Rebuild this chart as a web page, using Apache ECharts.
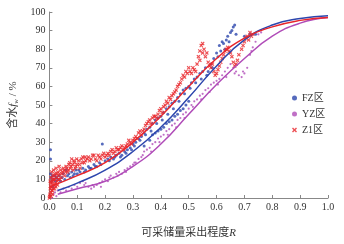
<!DOCTYPE html>
<html>
<head>
<meta charset="utf-8">
<script src="https://cdn.jsdelivr.net/npm/echarts@6/dist/echarts.min.js"></script>
<style>
html,body{margin:0;padding:0;background:#fff;}
#main{width:344px;height:244px;}
</style>
</head>
<body>
<div id="main"></div>
<script>
// 坐标轴刻度
var xTicks = [0, 0.1, 0.2, 0.3, 0.4, 0.5, 0.6, 0.7, 0.8, 0.9, 1.0];
var yTicks = [0, 10, 20, 30, 40, 50, 60, 70, 80, 90, 100];
var seriesNames = ['FZ区', 'YZ区', 'Z1区'];

// FZ区 实测点 [R, fw]
var fzPoints = [
  [0.004,26],[0.004,21],[0.004,13],[0.006,11],[0.008,9],[0.01,12],[0.012,6],[0.015,10],
  [0.02,12],[0.022,9],[0.025,11],[0.03,10],[0.035,12],[0.04,9],[0.045,11],[0.05,13],
  [0.055,10],[0.06,15],[0.065,12],[0.07,13],[0.075,11],[0.08,14],[0.085,12],[0.09,13],
  [0.095,15],[0.1,13],[0.11,14],[0.12,16],[0.13,15],[0.14,17],[0.15,16],[0.16,18],
  [0.17,17],[0.18,19],[0.19,29],[0.2,20],[0.21,21],[0.22,22],[0.23,21],[0.24,23],
  [0.25,24],[0.26,23],[0.27,25],[0.28,26],[0.29,27],[0.3,29],[0.31,30],[0.32,32],
  [0.33,33],[0.34,35],[0.35,37],[0.36,38],[0.37,40],[0.38,42],[0.39,43],[0.4,44],
  [0.41,46],[0.42,48],[0.43,49],[0.44,51],[0.45,52],[0.46,54],[0.47,56],[0.48,58],
  [0.49,59],[0.5,60],[0.51,62],[0.52,64],[0.53,65],[0.54,67],[0.55,68],[0.56,70],
  [0.57,68],[0.58,72],[0.59,75],[0.6,78],[0.61,82],[0.62,84],[0.63,80],[0.64,87],
  [0.65,89],[0.66,92],[0.665,93],[0.67,88],[0.7,87],[0.72,88],[0.74,88],
  [0.34,28],[0.36,31],[0.37,34],[0.38,35],[0.39,36],[0.4,37],[0.41,38],[0.42,40],
  [0.43,41],[0.44,42],[0.45,44],[0.46,45],[0.47,47],[0.48,48],[0.49,50],[0.5,52],
  [0.105,15],[0.125,14],[0.145,16],[0.165,17],[0.185,18],[0.215,20],[0.235,22],[0.255,22],
  [0.275,24],[0.295,26],[0.305,28],[0.325,31],[0.345,34],[0.365,36],[0.385,40],[0.405,42],
  [0.425,45],[0.445,48],[0.465,52],[0.485,56],[0.505,59],[0.525,62],[0.545,64],[0.565,66],
  [0.585,70],[0.605,76],[0.615,79],[0.625,83],[0.635,85],[0.645,84],[0.655,90]
];

// YZ区 实测点
var yzPoints = [
  [0.01,0],[0.015,2],[0.02,3],[0.025,1],[0.03,4],[0.04,3],[0.05,5],[0.06,4],
  [0.07,6],[0.08,5],[0.09,7],[0.1,6],[0.11,8],[0.12,9],[0.13,8],[0.14,6],
  [0.15,5],[0.16,6],[0.17,7],[0.18,8],[0.19,9],[0.2,10],[0.21,9],[0.22,12],
  [0.23,11],[0.24,13],[0.25,14],[0.26,13],[0.27,15],[0.28,16],[0.29,17],[0.3,18],
  [0.31,19],[0.32,21],[0.33,22],[0.34,25],[0.35,26],[0.36,27],[0.37,29],[0.38,30],
  [0.39,32],[0.4,33],[0.41,34],[0.42,36],[0.43,37],[0.44,39],[0.45,40],[0.46,42],
  [0.47,43],[0.48,45],[0.49,46],[0.5,48],[0.51,50],[0.52,52],[0.53,53],[0.54,55],
  [0.55,56],[0.56,58],[0.57,59],[0.58,61],[0.59,62],[0.6,63],[0.61,64],[0.62,66],
  [0.63,68],[0.64,70],[0.65,72],[0.66,70],[0.67,68],[0.68,66],[0.69,65],[0.7,67],
  [0.71,70],[0.72,77],[0.73,81],[0.74,84],[0.75,88],[0.76,89],
  [0.125,7],[0.155,7],[0.185,6],[0.215,11],[0.245,12],[0.275,14],[0.305,19],[0.335,23],
  [0.365,25],[0.395,30],[0.425,34],[0.455,38],[0.485,43],[0.515,49],[0.545,53],[0.575,57],
  [0.605,61],[0.635,65],[0.665,67],[0.695,68],[0.725,79]
];

// Z1区 实测点
var z1Points = [
  [0,0],[0.002,2],[0.003,5],[0.004,8],[0.005,3],[0.006,11],[0.007,6],[0.008,14],
  [0.01,4],[0.01,9],[0.012,12],[0.013,7],[0.015,15],[0.016,10],[0.018,5],[0.02,13],
  [0.022,8],[0.024,16],[0.026,11],[0.028,9],[0.03,14],[0.032,12],[0.035,17],[0.038,10],
  [0.04,15],[0.045,13],[0.05,16],[0.055,12],[0.06,17],[0.065,14],[0.07,18],[0.075,16],
  [0.08,21],[0.085,15],[0.09,19],[0.095,17],[0.1,18],[0.105,20],[0.11,16],[0.115,21],
  [0.12,22],[0.125,19],[0.13,20],[0.14,22],[0.15,21],[0.16,23],[0.17,20],[0.18,22],
  [0.19,23],[0.2,22],[0.21,24],[0.22,25],[0.23,24],[0.24,27],[0.25,26],[0.26,28],
  [0.27,27],[0.28,29],[0.29,30],[0.3,31],[0.31,33],[0.32,35],[0.33,34],[0.34,37],
  [0.35,40],[0.36,42],[0.37,43],[0.38,44],[0.39,45],[0.4,48],[0.41,49],[0.42,52],
  [0.43,54],[0.44,55],[0.45,57],[0.46,60],[0.47,62],[0.48,66],[0.49,68],[0.5,70],
  [0.51,67],[0.52,69],[0.53,72],[0.535,76],[0.54,79],[0.545,82],[0.55,83],[0.555,80],
  [0.56,76],[0.57,73],[0.58,70],[0.59,68],[0.6,67],[0.61,71],[0.62,75],[0.63,79],
  [0.64,81],[0.65,78],[0.66,73],[0.665,71],[0.675,74],[0.69,80],[0.7,84],[0.71,87],
  [0.72,89],[0.73,88],
  [0.001,1],[0.003,9],[0.005,6],[0.006,1],[0.008,4],[0.009,8],[0.011,2],[0.012,10],
  [0.014,5],[0.017,12],[0.019,7],[0.021,10],[0.023,6],[0.027,13],[0.029,7],[0.033,10],
  [0.037,13],[0.042,11],[0.048,14],[0.053,15],[0.058,14],[0.063,16],[0.068,15],[0.073,19],
  [0.078,17],[0.083,18],[0.088,20],[0.093,16],[0.098,21],[0.108,18],[0.118,19],[0.128,22],
  [0.135,21],[0.145,20],[0.155,23],[0.165,21],[0.175,23],[0.185,21],[0.195,24],[0.205,23],
  [0.215,23],[0.225,26],[0.235,25],[0.245,26],[0.255,27],[0.265,26],[0.275,28],[0.285,31],
  [0.295,29],[0.305,32],[0.315,32],[0.325,36],[0.335,36],[0.345,39],[0.355,41],[0.365,40],
  [0.375,44],[0.385,43],[0.395,47],[0.405,46],[0.415,50],[0.425,51],[0.435,53],[0.445,56],
  [0.455,58],[0.465,61],[0.475,64],[0.485,65],[0.495,67],[0.505,68],[0.515,70],[0.525,68],
  [0.54,74],[0.55,78],[0.565,78],[0.575,71],[0.585,72],[0.595,66],[0.605,69],[0.615,73],
  [0.625,77],[0.635,80],[0.645,79],[0.655,76],[0.67,72],[0.68,77],[0.695,82],[0.705,86],
  [0.715,85],[0.725,87]
];

// 拟合曲线
var fzFit = [[0.03,4],[0.1,8],[0.2,15],[0.3,25],[0.4,38],[0.5,54],[0.6,71],[0.7,85],[0.8,93],[0.9,96.5],[1.0,98]];
var yzFit = [[0.03,2],[0.1,5],[0.2,9],[0.3,17],[0.4,29],[0.5,45],[0.6,61],[0.7,75],[0.8,87],[0.9,94],[1.0,97]];
var z1Fit = [[0,6],[0.1,12],[0.2,19],[0.3,30],[0.4,44],[0.5,60],[0.6,75],[0.7,86],[0.8,92],[0.9,95.5],[1.0,97]];

var colors = {fz: '#2c46ad', yz: '#b04cb8', z1: '#e8262b'};
var serif = 'Liberation Serif, Noto Sans CJK SC, serif';
// 叉号标记
var crossPath = 'path://M0,2L2,0L5,3L8,0L10,2L7,5L10,8L8,10L5,7L2,10L0,8L3,5Z';

var chart = echarts.init(document.getElementById('main'));
var option = {
  animation: false,
  grid: {left: 45, right: 16, top: 12, bottom: 45},
  legend: {
    orient: 'vertical',
    left: 287,
    top: 88,
    itemGap: 6,
    itemWidth: 5,
    itemHeight: 5,
    data: seriesNames,
    textStyle: {fontFamily: serif, fontSize: 10, color: '#333'}
  },
  xAxis: {
    type: 'value',
    min: xTicks[0],
    max: xTicks[xTicks.length - 1],
    interval: 0.1,
    name: '可采储量采出程度{i|R}',
    nameLocation: 'middle',
    nameGap: 30,
    nameTextStyle: {fontFamily: serif, fontSize: 11, color: '#333',
      rich: {i: {fontStyle: 'italic', fontFamily: serif, fontSize: 11, color: '#333'}}},
    axisLine: {lineStyle: {color: '#888'}},
    axisTick: {inside: true, length: 3, lineStyle: {color: '#888'}},
    axisLabel: {fontFamily: serif, fontSize: 10, color: '#333', margin: 4,
      formatter: function (v) { return v.toFixed(1); }},
    splitLine: {show: false}
  },
  yAxis: {
    type: 'value',
    min: yTicks[0],
    max: yTicks[yTicks.length - 1],
    interval: 10,
    name: '含水{i|f}{s|w} / %',
    nameLocation: 'middle',
    nameGap: 24,
    nameTextStyle: {fontFamily: serif, fontSize: 11, color: '#333',
      rich: {
        i: {fontStyle: 'italic', fontFamily: serif, fontSize: 11, color: '#333'},
        s: {fontStyle: 'italic', fontFamily: serif, fontSize: 7, color: '#333', padding: [5, 0, 0, 0]}
      }},
    axisLine: {show: true, lineStyle: {color: '#888'}},
    axisTick: {show: true, inside: true, length: 3, lineStyle: {color: '#888'}},
    axisLabel: {fontFamily: serif, fontSize: 10, color: '#333', margin: 4},
    splitLine: {show: false}
  },
  series: [
    {name: 'FZ区', type: 'scatter', data: fzPoints, symbol: 'circle', symbolSize: 3,
      itemStyle: {color: colors.fz}, z: 3},
    {name: 'YZ区', type: 'scatter', data: yzPoints, symbol: 'circle', symbolSize: 2.2,
      itemStyle: {color: colors.yz, opacity: 0.8}, z: 2},
    {name: 'Z1区', type: 'scatter', data: z1Points, symbol: crossPath, symbolSize: 4,
      itemStyle: {color: colors.z1}, z: 4},
    {name: 'FZ拟合', type: 'line', data: fzFit, smooth: true, showSymbol: false,
      lineStyle: {color: colors.fz, width: 1.5}, z: 5},
    {name: 'YZ拟合', type: 'line', data: yzFit, smooth: true, showSymbol: false,
      lineStyle: {color: colors.yz, width: 1.5}, z: 5},
    {name: 'Z1拟合', type: 'line', data: z1Fit, smooth: true, showSymbol: false,
      lineStyle: {color: colors.z1, width: 1.5}, z: 5}
  ]
};
chart.setOption(option);
</script>
</body>
</html>
